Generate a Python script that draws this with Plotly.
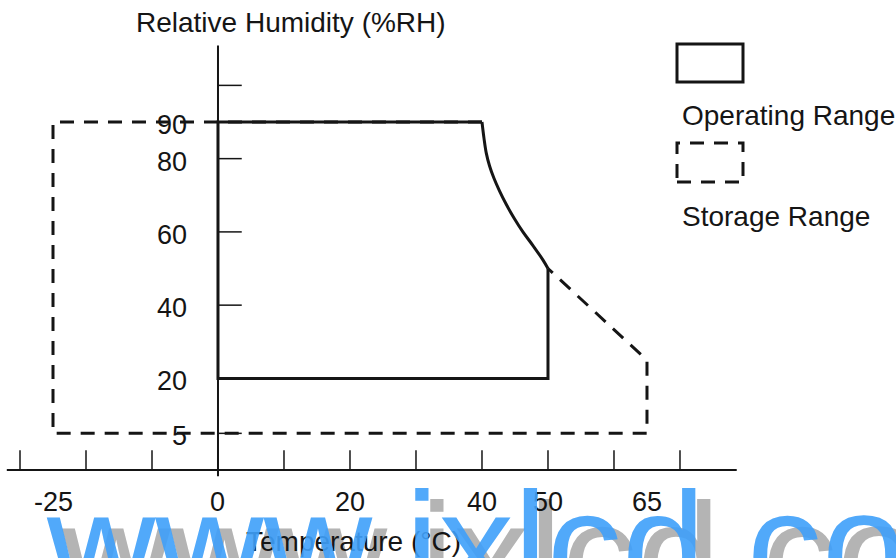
import plotly.graph_objects as go

# ---------------- data ----------------
temp_ticks = [-30, -20, -10, 0, 10, 20, 30, 40, 50, 60, 70]
temp_labels = [-25, 0, 20, 40, 50, 65]
rh_ticks = [100, 90, 80, 60, 40, 20, 5]
rh_labels = [90, 80, 60, 40, 20, 5]

# operating range: rectangle 0..50 degC, 20..90 %RH with a curved upper-right edge
curve_temp = [40, 40.3, 40.65, 41.15, 41.8, 42.65, 43.65, 44.85, 46.2, 47.75, 49.25, 50]
curve_rh = [90, 85.6, 81.5, 78.0, 74.7, 71.2, 67.6, 63.8, 60.0, 56.2, 52.3, 50]
op_min_temp, op_max_temp = 0, 50
op_min_rh, op_max_rh = 20, 90

# storage range: -25..65 degC, 5..90 %RH, sloped upper-right edge
st_min_temp, st_max_temp = -25, 65
st_min_rh, st_max_rh = 5, 90
st_corner_rh = 25

# axis geometry (data units)
x_axis_at_rh = -5
x_axis_span = (-32, 78.6)
y_axis_span = (-6.7, 110.9)

FONT = "Liberation Sans, Arial, sans-serif"
INK = "#151515"

# operating outline (straight part) + curved edge drawn separately
op_x = [op_max_temp, op_max_temp, op_min_temp, op_min_temp, curve_temp[0]]
op_y = [curve_rh[-1], op_min_rh, op_min_rh, op_max_rh, op_max_rh]

# storage outline: top from left edge to operating corner, then from curve end down/around
st_x = [curve_temp[0], st_min_temp, st_min_temp, st_max_temp, st_max_temp, curve_temp[-1]]
st_y = [st_max_rh, st_max_rh, st_min_rh, st_min_rh, st_corner_rh, curve_rh[-1]]

fig = go.Figure()

# axes lines
fig.add_trace(go.Scatter(x=list(x_axis_span), y=[x_axis_at_rh, x_axis_at_rh], mode="lines",
                         line=dict(color=INK, width=2), hoverinfo="skip"))
fig.add_trace(go.Scatter(x=[0, 0], y=list(y_axis_span), mode="lines",
                         line=dict(color=INK, width=2), hoverinfo="skip"))

# x ticks (pointing up from the axis)
tx, ty = [], []
for t in temp_ticks:
    tx += [t, t, None]
    ty += [x_axis_at_rh, x_axis_at_rh + 5.4, None]
fig.add_trace(go.Scatter(x=tx, y=ty, mode="lines", line=dict(color=INK, width=1.5), hoverinfo="skip"))

# y ticks (pointing right from the axis)
yx, yy = [], []
for r in rh_ticks:
    yx += [0, 3.6, None]
    yy += [r, r, None]
fig.add_trace(go.Scatter(x=yx, y=yy, mode="lines", line=dict(color=INK, width=1.5), hoverinfo="skip"))

# storage (dashed) then operating (solid)
fig.add_trace(go.Scatter(x=st_x, y=st_y, mode="lines",
                         line=dict(color=INK, width=3, dash="14px,10px"), hoverinfo="skip"))
fig.add_trace(go.Scatter(x=op_x, y=op_y, mode="lines",
                         line=dict(color=INK, width=3), hoverinfo="skip"))
fig.add_trace(go.Scatter(x=curve_temp, y=curve_rh, mode="lines",
                         line=dict(color=INK, width=3, shape="spline", smoothing=1.0), hoverinfo="skip"))

W, H = 896, 558
X0, X1 = -33.03, 102.73
Y0, Y1 = -29.03, 123.31

annotations = []
# watermark shadow (below text)
annotations.append(dict(text="www.ixlcd.co", xref="paper", yref="paper", x=59 / W, y=1 - 470 / H,
                        xanchor="left", yanchor="top", showarrow=False,
                        font=dict(family=FONT, size=150, color="#b4b4b4")))

for v in temp_labels:
    annotations.append(dict(text=str(v), x=v, y=x_axis_at_rh, xref="x", yref="y",
                            yanchor="top", yshift=-15, showarrow=False,
                            font=dict(family=FONT, size=27, color=INK)))
for v in rh_labels:
    annotations.append(dict(text=str(v), x=0, y=v, xref="x", yref="y",
                            xanchor="right", xshift=-29, yshift=-3, showarrow=False,
                            font=dict(family=FONT, size=27, color=INK)))

annotations.append(dict(text="Relative Humidity (%RH)", xref="paper", yref="paper",
                        x=291 / W, y=1 - 22 / H, xanchor="center", yanchor="middle", showarrow=False,
                        font=dict(family=FONT, size=28, color=INK)))
annotations.append(dict(text="Temperature (°C)", xref="paper", yref="paper",
                        x=353 / W, y=1 - 541 / H, xanchor="center", yanchor="middle", showarrow=False,
                        font=dict(family=FONT, size=28, color=INK)))
annotations.append(dict(text="Operating Range", xref="paper", yref="paper",
                        x=680 / W, y=1 - 116 / H, xanchor="left", yanchor="middle", showarrow=False,
                        font=dict(family=FONT, size=28, color=INK)))
annotations.append(dict(text="Storage Range", xref="paper", yref="paper",
                        x=680 / W, y=1 - 217 / H, xanchor="left", yanchor="middle", showarrow=False,
                        font=dict(family=FONT, size=28, color=INK)))

# watermark (blue, on top)
annotations.append(dict(text="www.ixlcd.co", xref="paper", yref="paper", x=44 / W, y=1 - 459 / H,
                        xanchor="left", yanchor="top", showarrow=False, opacity=0.9,
                        font=dict(family=FONT, size=150, color="#3fa0fa")))

shapes = [
    dict(type="rect", xref="paper", yref="paper", x0=677 / W, x1=743 / W, y0=1 - 82 / H, y1=1 - 44 / H,
         line=dict(color=INK, width=3)),
    dict(type="rect", xref="paper", yref="paper", x0=677 / W, x1=743 / W, y0=1 - 182 / H, y1=1 - 143 / H,
         line=dict(color=INK, width=3, dash="14px,10px")),
]

fig.update_layout(
    width=W, height=H, margin=dict(l=0, r=0, t=0, b=0),
    paper_bgcolor="white", plot_bgcolor="white", showlegend=False,
    xaxis=dict(range=[X0, X1], visible=False, fixedrange=True),
    yaxis=dict(range=[Y0, Y1], visible=False, fixedrange=True),
    annotations=annotations, shapes=shapes,
)

fig.write_html("out.html", config={"displayModeBar": False},
               post_script="document.body.style.margin='0';document.body.style.overflow='hidden';")
